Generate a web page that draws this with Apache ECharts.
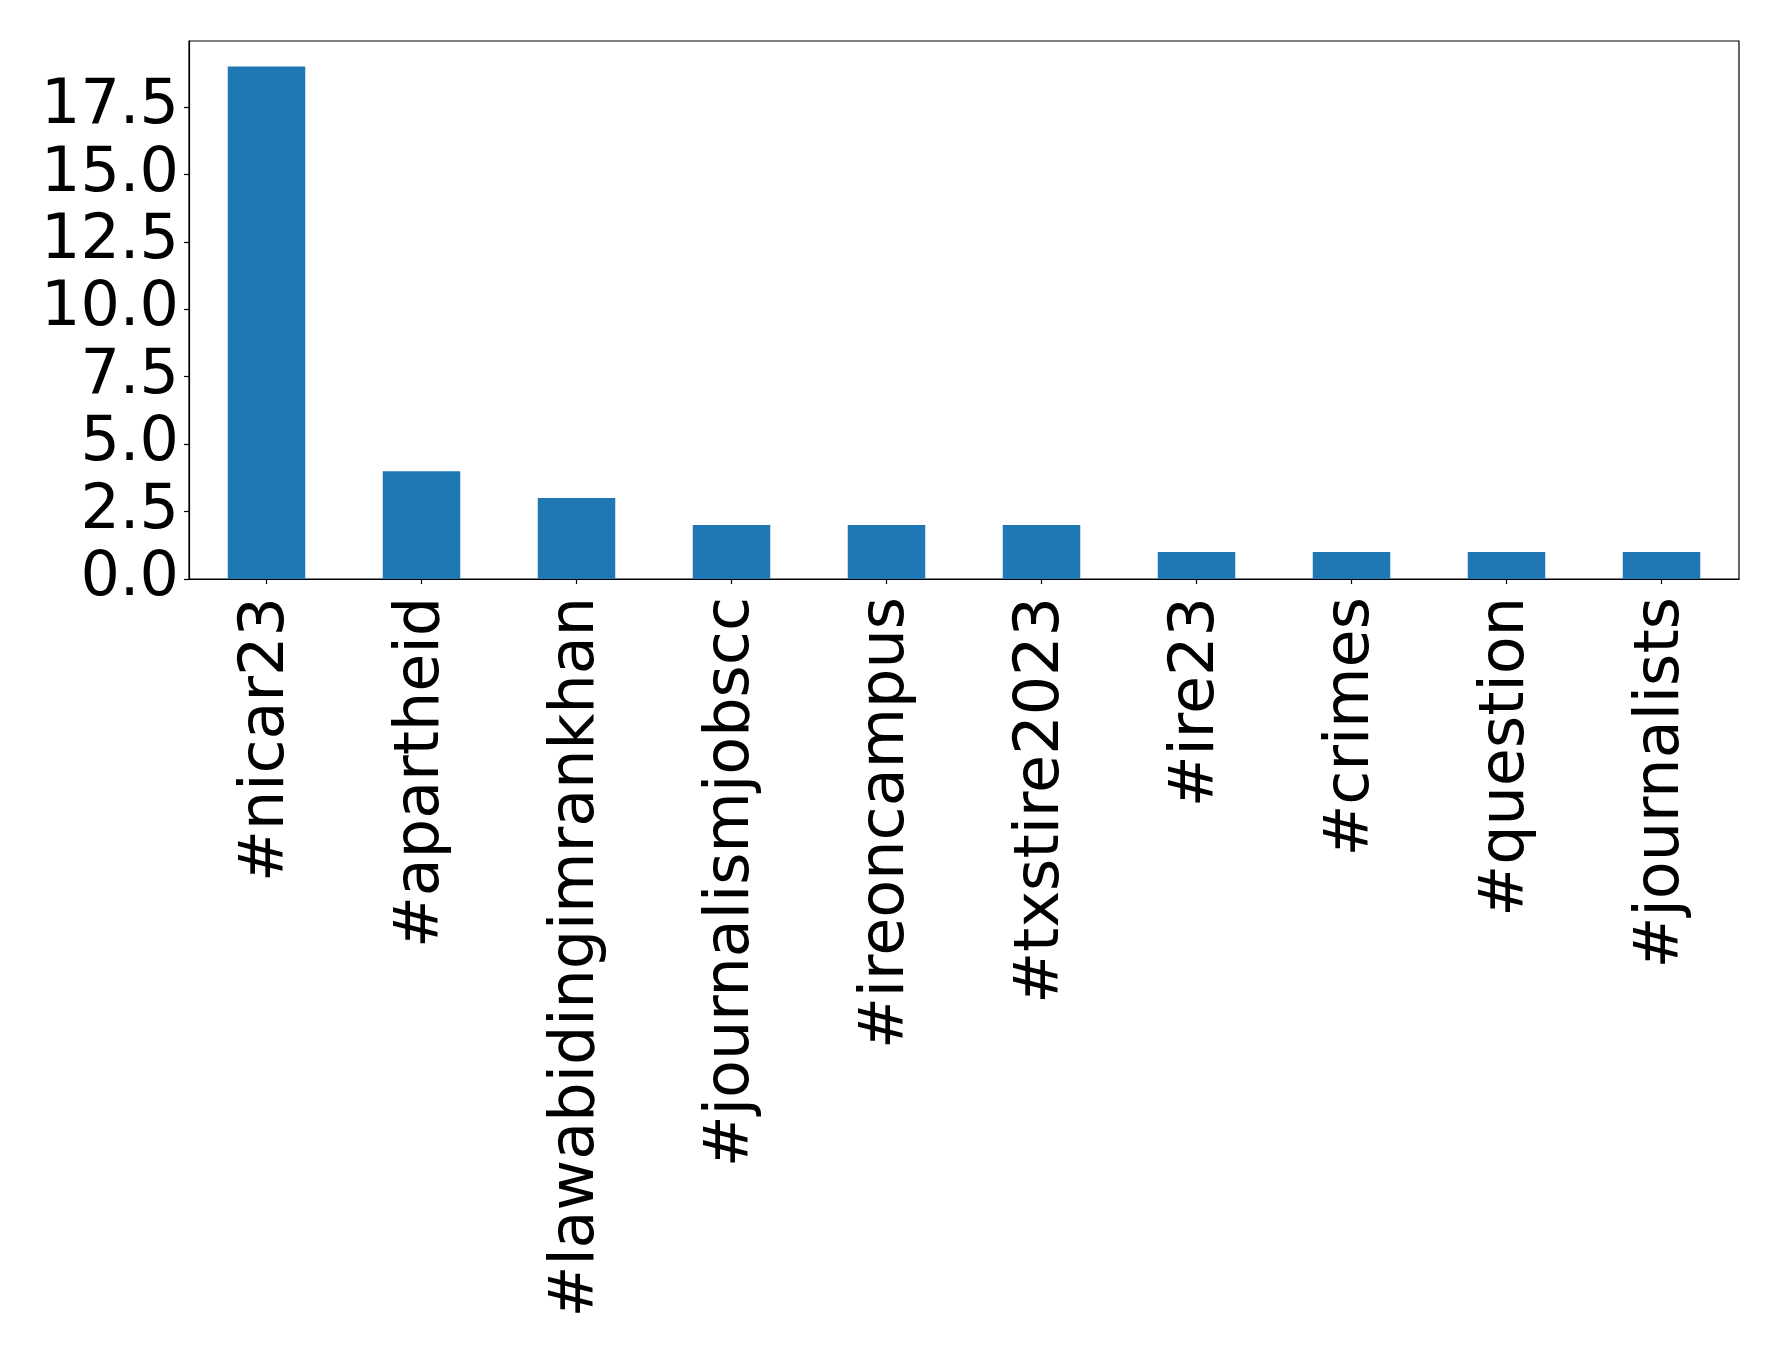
<!DOCTYPE html>
<html>
<head>
<meta charset="utf-8">
<script src="https://cdn.jsdelivr.net/npm/echarts@6/dist/echarts.min.js"></script>
<style>
html,body{margin:0;padding:0;background:#fff;}
#chart{width:1778px;height:1354px;}
</style>
</head>
<body>
<div id="chart"></div>
<script>
const categories = ['#nicar23', '#apartheid', '#lawabidingimrankhan', '#journalismjobscc', '#ireoncampus', '#txstire2023', '#ire23', '#crimes', '#question', '#journalists'];
const counts = [19, 4, 3, 2, 2, 2, 1, 1, 1, 1];
const yTicks = [0, 2.5, 5, 7.5, 10, 12.5, 15, 17.5];

const chart = echarts.init(document.getElementById('chart'), null, {renderer: 'canvas'});
const font = 'DejaVu Sans';
chart.setOption({
  backgroundColor: '#ffffff',
  animation: false,
  grid: {
    left: 189, right: 39, top: 41, bottom: 775,
    show: true, borderColor: '#000', borderWidth: 1.2, backgroundColor: 'transparent',
    containLabel: false
  },
  xAxis: {
    type: 'category',
    data: categories,
    boundaryGap: true,
    axisLine: {show: true, lineStyle: {color: '#000', width: 1.2}},
    axisTick: {show: true, alignWithLabel: true, length: 5, lineStyle: {color: '#000', width: 1.2}},
    axisLabel: {rotate: 90, margin: 18, color: '#000', fontFamily: font, fontSize: 62, interval: 0, padding: [6, 0, 0, 0]}
  },
  yAxis: {
    type: 'value',
    min: 0,
    max: 19.95,
    interval: 2.5,
    splitLine: {show: false},
    axisLine: {show: true, lineStyle: {color: '#000', width: 1.2}},
    axisTick: {show: true, length: 5, lineStyle: {color: '#000', width: 1.2}},
    axisLabel: {
      showMaxLabel: false,
      margin: 10,
      padding: [8, 0, 0, 0],
      color: '#000', fontFamily: font, fontSize: 62,
      formatter: function (v) {
        return yTicks.some(t => Math.abs(t - v) < 1e-6) ? v.toFixed(1) : '';
      }
    }
  },
  series: [{
    type: 'bar',
    data: counts,
    barWidth: '50%',
    itemStyle: {color: '#1f77b4'}
  }]
});
</script>
</body>
</html>
